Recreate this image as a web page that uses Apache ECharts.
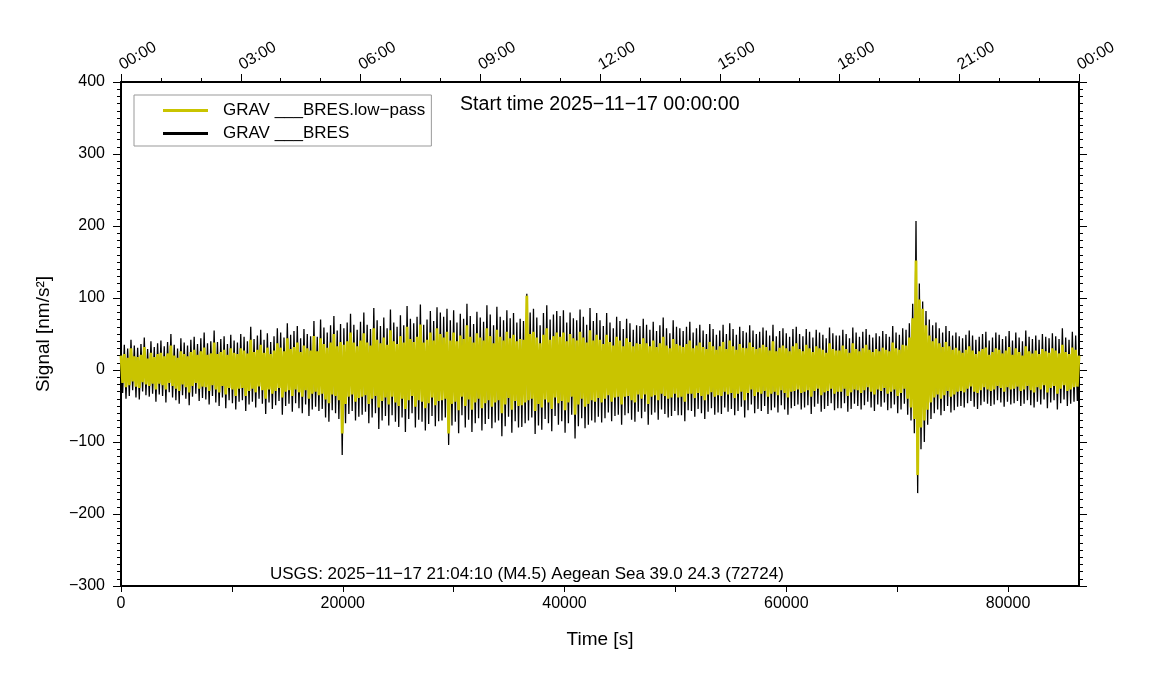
<!DOCTYPE html>
<html>
<head>
<meta charset="utf-8">
<script src="https://cdn.jsdelivr.net/npm/echarts@6/dist/echarts.min.js"></script>
<style>
html,body{margin:0;padding:0;background:#fff;}
#chart{width:1151px;height:700px;}
</style>
</head>
<body>
<div id="chart"></div>
<script>
// Sample spacing of the traces (seconds)
const step = 150;

// Raw trace GRAV ___BRES (nm/s^2), one row per hour
const rawValues = [
  38,-32,35,-40,30,-36,42,-28,34,-38,31,-41,36,-30,45,-35,29,-37,40,-33,32,-44,37,-34,
  41,-36,33,-45,39,-31,50,-38,35,-42,30,-47,44,-35,38,-40,34,-49,42,-37,46,-33,36,-43,
  44,-39,52,-41,37,-48,40,-36,55,-45,39,-50,43,-38,47,-53,36,-42,49,-46,41,-55,38,-44,
  50,-42,46,-57,40,-48,60,-44,43,-52,48,-40,56,-47,42,-61,51,-45,39,-54,47,-49,58,-43,
  52,-62,45,-50,65,-47,49,-58,54,-46,61,-53,44,-60,57,-48,50,-64,47,-55,68,-51,46,-57,
  70,-54,59,-66,52,-72,62,-56,75,-60,55,-68,64,-118,58,-74,66,-61,78,-57,63,-70,56,-65,
  67,-62,80,-58,63,-74,57,-66,86,-60,69,-82,61,-70,73,-64,58,-77,84,-63,66,-72,60,-79,
  76,-66,62,-86,89,-68,71,-60,65,-80,74,-69,91,-72,63,-84,70,-75,82,-64,68,-78,87,-71,
  80,-70,74,-66,85,-104,69,-77,83,-72,66,-88,78,-63,71,-80,92,-69,75,-86,64,-74,81,-67,
  73,-84,67,-75,90,-68,77,-81,62,-73,88,-70,74,-92,69,-78,83,-65,72,-87,79,-71,66,-80,
  71,-79,68,-74,106,-70,80,-66,85,-89,73,-77,62,-83,79,-68,90,-74,70,-85,77,-64,82,-76,
  75,-71,83,-87,66,-74,80,-62,72,-95,69,-78,84,-67,74,-81,63,-76,86,-70,68,-73,79,-65,
  69,-73,61,-67,79,-59,66,-71,58,-64,74,-62,68,-76,57,-63,71,-60,65,-69,56,-72,62,-58,
  61,-67,71,-58,63,-76,56,-62,67,-59,54,-69,62,-55,73,-61,58,-66,51,-64,69,-57,60,-63,
  58,-63,54,-71,60,-56,67,-57,52,-65,58,-54,63,-60,55,-68,50,-58,64,-53,57,-62,49,-59,
  55,-61,63,-52,50,-58,65,-54,57,-63,49,-57,60,-51,54,-66,52,-56,62,-48,55,-60,50,-54,
  53,-57,59,-50,55,-61,48,-56,63,-52,47,-59,54,-49,58,-55,51,-62,46,-53,57,-50,60,-48,
  50,-55,47,-52,57,-49,53,-61,45,-51,56,-47,52,-58,49,-54,44,-50,59,-46,51,-56,48,-53,
  48,-53,56,-46,50,-58,44,-54,59,-47,52,-50,46,-55,53,-49,57,-44,49,-52,45,-57,51,-48,
  47,-51,54,-45,50,-56,46,-53,61,-48,52,-60,49,-55,58,-47,56,-62,65,-70,92,-88,207,-171,
  120,-110,95,-100,82,-76,70,-68,62,-60,66,-55,58,-63,52,-57,61,-50,54,-59,48,-56,52,-51,
  47,-50,44,-52,49,-46,55,-43,48,-51,42,-54,46,-49,50,-44,53,-47,41,-50,45,-48,52,-42,
  49,-45,43,-51,47,-44,54,-48,41,-46,52,-43,45,-50,40,-47,55,-42,46,-49,43,-52,48,-44,
  42,-48,50,-41,46,-53,44,-45,51,-42,47,-55,43,-46,58,-41,45,-50,42,-47,53,-44,48,-43,
  40
];

// Low-pass trace GRAV ___BRES.low-pass (nm/s^2)
const lowpassValues = [
  20,-18,22,-24,17,-21,30,-16,19,-23,18,-25,21,-17,32,-20,16,-22,24,-19,18,-27,22,-19,
  24,-21,19,-27,23,-18,34,-22,20,-26,17,-29,26,-20,22,-24,19,-31,25,-22,28,-18,21,-26,
  26,-23,31,-24,21,-29,23,-21,38,-27,22,-31,25,-22,28,-34,21,-25,30,-27,24,-36,22,-26,
  30,-25,27,-36,23,-29,42,-26,25,-31,28,-23,35,-28,24,-40,31,-27,22,-33,27,-29,37,-25,
  31,-38,26,-30,44,-28,29,-36,32,-27,38,-31,25,-37,34,-28,30,-40,27,-33,47,-30,26,-35,
  44,-33,36,-41,31,-46,38,-34,50,-36,33,-42,39,-88,35,-47,40,-37,52,-34,38,-44,33,-39,
  41,-37,51,-35,38,-47,34,-40,58,-36,42,-52,37,-43,45,-38,35,-48,55,-37,40,-45,36,-50,
  47,-40,38,-54,60,-42,43,-36,39,-51,46,-42,63,-44,38,-53,42,-46,52,-38,41,-49,58,-43,
  50,-42,45,-40,53,-88,41,-47,52,-44,40,-56,48,-37,43,-50,62,-41,46,-55,38,-45,51,-40,
  45,-53,41,-46,58,-42,47,-51,37,-45,56,-42,46,-60,41,-48,53,-39,44,-55,49,-43,40,-50,
  43,-49,42,-45,103,-42,50,-40,53,-57,45,-47,37,-52,49,-41,58,-45,42,-54,47,-38,52,-46,
  46,-43,52,-56,40,-45,50,-37,44,-62,41,-48,53,-40,45,-51,38,-47,55,-42,41,-44,49,-39,
  42,-45,36,-40,49,-35,39,-44,34,-38,46,-37,41,-48,33,-37,44,-36,39,-42,33,-45,37,-34,
  36,-40,44,-34,37,-47,33,-37,41,-35,32,-42,37,-33,46,-36,34,-40,30,-38,43,-33,36,-38,
  34,-37,32,-44,36,-33,41,-33,30,-39,34,-32,38,-36,32,-42,29,-34,39,-31,33,-37,28,-35,
  33,-36,39,-30,29,-34,41,-32,33,-39,28,-33,36,-30,31,-42,30,-32,38,-27,32,-36,29,-31,
  31,-33,35,-29,32,-37,27,-33,40,-30,26,-35,31,-28,34,-32,30,-38,26,-30,33,-29,37,-27,
  29,-32,26,-30,35,-28,30,-37,25,-29,33,-26,30,-35,28,-31,24,-29,37,-26,29,-33,27,-30,
  27,-30,34,-26,29,-36,24,-31,37,-27,29,-28,26,-32,30,-28,35,-24,28,-30,25,-34,29,-27,
  26,-29,31,-25,28,-33,26,-30,38,-27,30,-36,28,-32,35,-26,34,-40,45,-52,72,-68,152,-146,
  98,-80,85,-70,62,-55,48,-45,40,-38,44,-34,37,-40,32,-35,39,-29,33,-37,28,-34,31,-30,
  27,-29,24,-31,28,-26,33,-23,27,-30,22,-32,26,-28,29,-24,31,-27,21,-29,25,-27,30,-22,
  28,-25,23,-30,27,-24,32,-27,21,-26,30,-23,25,-29,20,-27,33,-22,26,-28,23,-31,27,-24,
  22,-27,29,-21,26,-31,24,-25,30,-22,27,-33,23,-26,35,-21,25,-29,22,-27,31,-24,28,-23,
  20
];

// Tick labels of the clock-time axis (every 3 h)
const clockTickLabels = ['00:00','03:00','06:00','09:00','12:00','15:00','18:00','21:00','00:00'];

const seriesNames = ['GRAV ___BRES.low\u2212pass', 'GRAV ___BRES'];
const titleText = 'Start time 2025\u221211\u221217 00:00:00';
const eventText = 'USGS: 2025\u221211\u221217 21:04:10 (M4.5) Aegean Sea 39.0 24.3 (72724)';

const rawData = rawValues.map((v, i) => [i * step, v]);
const lowData = lowpassValues.map((v, i) => [i * step, v]);

const FONT = 'Liberation Sans, Arial, Helvetica, sans-serif';
const chart = echarts.init(document.getElementById('chart'), null, {renderer: 'canvas'});

chart.setOption({
  animation: false,
  backgroundColor: '#fff',
  textStyle: {fontFamily: FONT, color: '#000'},
  grid: {left: 121, right: 72, top: 82, bottom: 114, containLabel: false},
  title: [
    {text: titleText, left: 460, top: 95, padding: 0,
     textStyle: {fontFamily: FONT, fontSize: 19.6, fontWeight: 'normal', color: '#000'}},
    {text: eventText, left: 270, top: 566, padding: 0,
     textStyle: {fontFamily: FONT, fontSize: 17, fontWeight: 'normal', color: '#000'}}
  ],
  legend: {
    data: seriesNames,
    orient: 'vertical',
    left: 134, top: 95,
    padding: [7, 6, 4, 29],
    itemGap: 6,
    itemWidth: 45, itemHeight: 3,
    icon: 'rect',
    backgroundColor: '#fff',
    borderColor: '#999', borderWidth: 1,
    textStyle: {fontFamily: FONT, fontSize: 17, color: '#000', padding: [0, 0, 0, 10]},
    selectedMode: false
  },
  xAxis: [
    {
      type: 'value', position: 'bottom', min: 0, max: 86400, interval: 10000,
      name: 'Time [s]', nameLocation: 'middle', nameGap: 44,
      nameTextStyle: {fontFamily: FONT, fontSize: 19, color: '#000'},
      axisLine: {show: true, onZero: false, lineStyle: {color: '#000', width: 2}},
      axisTick: {show: true, inside: false, length: 6, lineStyle: {color: '#000', width: 1}},
      axisLabel: {show: true, margin: 10, fontFamily: FONT, fontSize: 16, color: '#000',
        showMaxLabel: false,
        formatter: v => (v % 20000 === 0 ? String(v) : '')},
      splitLine: {show: false}
    },
    {
      type: 'value', position: 'top', min: 0, max: 86400, interval: 10800,
      axisLine: {show: true, onZero: false, lineStyle: {color: '#000', width: 2}},
      axisTick: {show: true, inside: false, length: 8, lineStyle: {color: '#000', width: 1}},
      minorTick: {show: true, splitNumber: 3, length: 4, lineStyle: {color: '#000', width: 1}},
      axisLabel: {show: true, margin: 7, rotate: -30, align: 'left', verticalAlign: 'bottom',
        padding: [0, 0, 0, 4],
        fontFamily: FONT, fontSize: 16, color: '#000',
        showMinLabel: true, showMaxLabel: true,
        formatter: v => clockTickLabels[Math.round(v / 10800)] || ''},
      splitLine: {show: false}
    }
  ],
  yAxis: [
    {
      type: 'value', position: 'left', min: -300, max: 400, interval: 100,
      name: 'Signal [nm/s\u00B2]', nameLocation: 'middle', nameGap: 68, nameRotate: 90,
      nameTextStyle: {fontFamily: FONT, fontSize: 19, color: '#000'},
      axisLine: {show: true, onZero: false, lineStyle: {color: '#000', width: 2}},
      axisTick: {show: true, inside: false, length: 8, lineStyle: {color: '#000', width: 1}},
      minorTick: {show: true, splitNumber: 10, length: 4, lineStyle: {color: '#000', width: 1}},
      axisLabel: {show: true, margin: 16, fontFamily: FONT, fontSize: 16, color: '#000',
        formatter: v => (v < 0 ? '\u2212' + Math.abs(v) : String(v))},
      splitLine: {show: false}
    },
    {
      type: 'value', position: 'right', min: -300, max: 400, interval: 100,
      axisLine: {show: true, onZero: false, lineStyle: {color: '#000', width: 2}},
      axisTick: {show: true, inside: false, length: 8, lineStyle: {color: '#000', width: 1}},
      minorTick: {show: true, splitNumber: 10, length: 4, lineStyle: {color: '#000', width: 1}},
      axisLabel: {show: false},
      splitLine: {show: false}
    }
  ],
  series: [
    {
      name: seriesNames[1], type: 'line', xAxisIndex: 0, yAxisIndex: 0,
      data: rawData, showSymbol: false, symbol: 'none', sampling: null,
      lineStyle: {color: '#000', width: 1.3}, itemStyle: {color: '#000'}, z: 2
    },
    {
      name: seriesNames[0], type: 'line', xAxisIndex: 0, yAxisIndex: 0,
      data: lowData, showSymbol: false, symbol: 'none', sampling: null,
      lineStyle: {color: '#c9c400', width: 2.8, join: 'miter', miterLimit: 2}, itemStyle: {color: '#c9c400'}, z: 3
    }
  ]
});
</script>
</body>
</html>
